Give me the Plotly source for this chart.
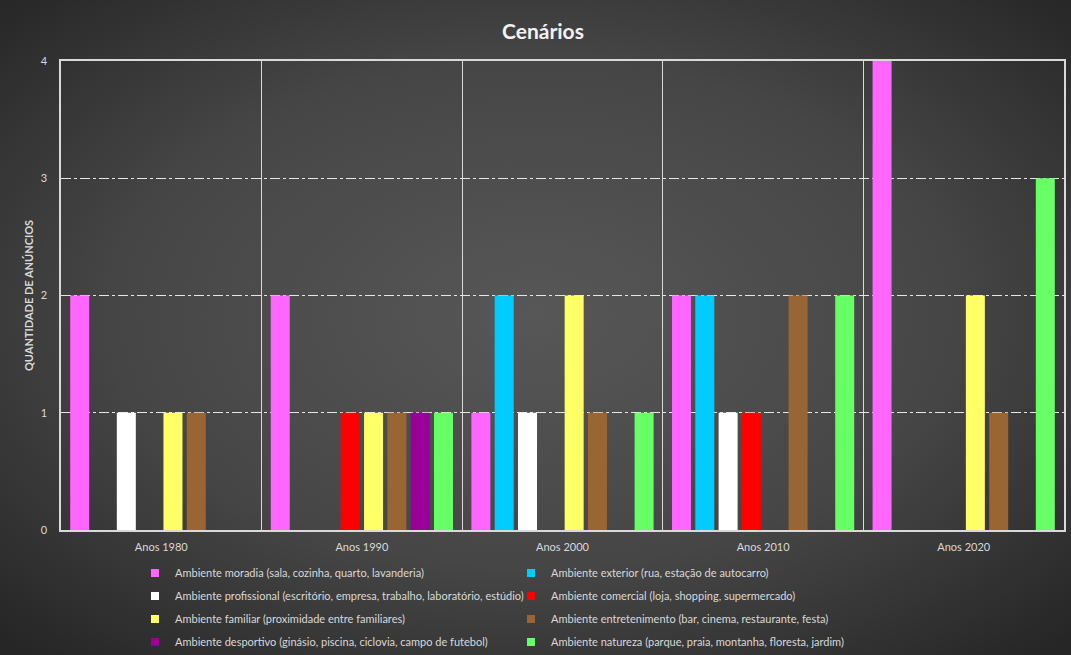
import base64
import plotly.graph_objects as go

categories = ["Anos 1980", "Anos 1990", "Anos 2000", "Anos 2010", "Anos 2020"]

series_names = [
    "Ambiente moradia (sala, cozinha, quarto, lavanderia)",
    "Ambiente exterior (rua, estação de autocarro)",
    "Ambiente profissional (escritório, empresa, trabalho, laboratório, estúdio)",
    "Ambiente comercial (loja, shopping, supermercado)",
    "Ambiente familiar (proximidade entre familiares)",
    "Ambiente entretenimento (bar, cinema, restaurante, festa)",
    "Ambiente desportivo (ginásio, piscina, ciclovia, campo de futebol)",
    "Ambiente natureza (parque, praia, montanha, floresta, jardim)",
]

moradia = [2, 2, 1, 2, 4]
exterior = [0, 0, 2, 2, 0]
profissional = [1, 0, 1, 1, 0]
comercial = [0, 1, 0, 1, 0]
familiar = [1, 1, 2, 0, 2]
entretenimento = [1, 1, 1, 2, 1]
desportivo = [0, 1, 0, 0, 0]
natureza = [0, 1, 1, 2, 3]

series_values = [moradia, exterior, profissional, comercial,
                 familiar, entretenimento, desportivo, natureza]

colors = ["#FF66FF", "#00CCFF", "#FFFFFF", "#FF0000",
          "#FFFF66", "#996633", "#990099", "#66FF66"]

y_ticks = [0, 1, 2, 3, 4]

W, H = 1071, 655
ML, MR, MT, MB = 61, 7, 61, 125

svg = f'''<svg xmlns="http://www.w3.org/2000/svg" width="{W}" height="{H}" viewBox="0 0 {W} {H}">
<defs><radialGradient id="g" cx="50%" cy="48%" r="70%">
<stop offset="0%" stop-color="#575757"/>
<stop offset="55%" stop-color="#464646"/>
<stop offset="100%" stop-color="#262626"/>
</radialGradient></defs>
<rect width="{W}" height="{H}" fill="url(#g)"/>
</svg>'''
bg_uri = "data:image/svg+xml;base64," + base64.b64encode(svg.encode()).decode()

pw = W - ML - MR
ph = H - MT - MB

font_family = "Lato, 'Open Sans', sans-serif"

# legend layout: 2 columns x 4 rows (pixel positions in the page)
legend_cols_px = [135, 511]
legend_rows_px = [573, 596, 619, 642]

fig = go.Figure()
for name, vals, col in zip(series_names, series_values, colors):
    fig.add_trace(go.Bar(
        x=categories, y=vals, name=name,
        marker=dict(color=col, line=dict(width=0)),
        showlegend=False, legendgroup=name,
        hovertemplate="%{x}: %{y}<extra></extra>",
    ))

legend_layouts = {}
for i, (name, col) in enumerate(zip(series_names, colors)):
    lid = "legend" if i == 0 else f"legend{i + 1}"
    fig.add_trace(go.Scatter(
        x=[categories[0]], y=[None], name=name, mode="markers",
        marker=dict(symbol="square", size=8, color=col, line=dict(width=0)),
        legendgroup=name, showlegend=True, hoverinfo="skip",
        legend=lid,
    ))
    r, c = divmod(i, 2)
    legend_layouts[lid] = dict(
        xref="container", yref="container",
        x=legend_cols_px[c] / W, xanchor="left",
        y=1 - legend_rows_px[r] / H, yanchor="middle",
        orientation="h",
        font=dict(size=11, color="#d9d9d9", family=font_family),
        bgcolor="rgba(0,0,0,0)",
        itemwidth=30,
    )

fig.update_layout(
    width=W, height=H,
    margin=dict(l=ML, r=MR, t=MT, b=MB, autoexpand=False),
    paper_bgcolor="#2e2e2e",
    plot_bgcolor="rgba(0,0,0,0)",
    barmode="group",
    bargap=0.07,
    bargroupgap=0.185,
    font=dict(family=font_family, color="#d9d9d9", size=11),
    title=dict(
        text="<b>Cenários</b>",
        x=(543 - ML) / pw, xanchor="center", xref="paper",
        y=1 - 32 / H, yanchor="middle", yref="container",
        font=dict(size=21, color="#f2f2f2", family=font_family),
    ),
    images=[dict(
        source=bg_uri, xref="paper", yref="paper",
        x=-ML / pw, y=1 + MT / ph,
        sizex=W / pw, sizey=H / ph,
        xanchor="left", yanchor="top",
        sizing="stretch", layer="below",
    )],
    xaxis=dict(
        type="category",
        tickson="boundaries",
        showgrid=True, gridcolor="#d9d9d9", gridwidth=1.3,
        showline=True, linecolor="#d9d9d9", linewidth=1.5, mirror=True,
        ticks="", ticklen=0, ticklabelstandoff=6,
        tickfont=dict(size=11, color="#d9d9d9"),
        fixedrange=True,
    ),
    yaxis=dict(
        range=[0, 4],
        tickvals=y_ticks,
        showgrid=True, gridcolor="#e6e6e6", gridwidth=1.3,
        griddash="10px,3px,3px,3px",
        showline=True, linecolor="#d9d9d9", linewidth=1.5, mirror=True,
        zeroline=False,
        ticks="", ticklabelstandoff=10,
        tickfont=dict(size=11, color="#d9d9d9"),
        title=dict(text="<b>QUANTIDADE DE ANÚNCIOS</b>", standoff=5,
                   font=dict(size=11, color="#d9d9d9")),
        fixedrange=True,
    ),
    **legend_layouts,
)

fig.write_html("out.html")
